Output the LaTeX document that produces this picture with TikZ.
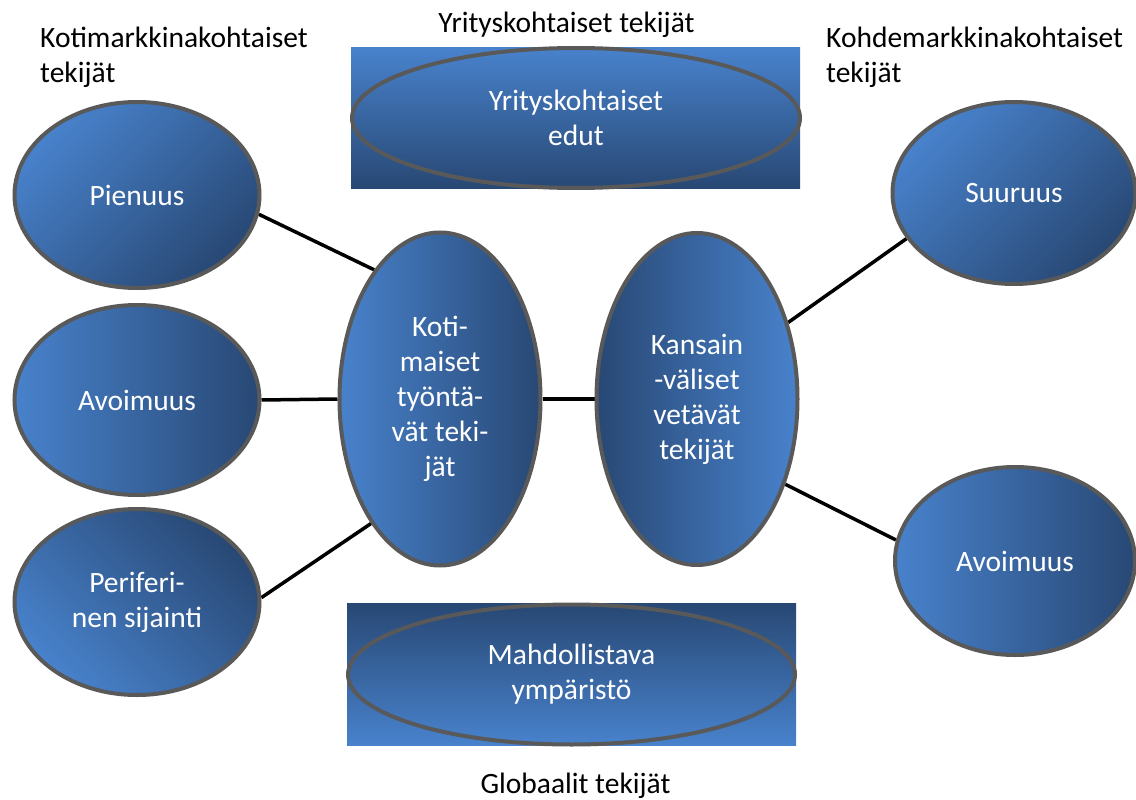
\documentclass[tikz,border=0pt]{standalone}
\usepackage{fontspec}
\setmainfont{Carlito}
\usetikzlibrary{shapes.geometric}
\definecolor{bl}{RGB}{72,130,204}
\definecolor{bd}{RGB}{40,72,116}
\definecolor{ol}{RGB}{89,89,89}
\pgfdeclarelayer{bg}
\pgfsetlayers{bg,main}
\begin{document}
\begin{tikzpicture}[x=1pt,y=-1pt,
  txt/.style={font=\fontsize{29.5}{35}\selectfont, align=center, inner sep=0pt},
  oval/.style={ellipse, draw=ol, line width=4pt, inner sep=0pt, txt, text=white},
  hgrad/.style={left color=bl, right color=bd},
  hgradr/.style={left color=bd, right color=bl},
  conn/.style={line width=3.5pt, black}]
\useasboundingbox (0,0) rectangle (1136,800);

% frames
\node[rectangle, inner sep=0pt, minimum width=449, minimum height=140, top color=bl, bottom color=bd] (topbox) at (575.5,118) {};
\node[oval, minimum width=448, minimum height=140, top color=bl, bottom color=bd] (yrit) at (576,118) {Yrityskohtaiset\\edut};
\node[rectangle, inner sep=0pt, minimum width=449, minimum height=142, top color=bd, bottom color=bl] (botbox) at (571.5,674) {};
\node[oval, minimum width=447, minimum height=140, top color=bd, bottom color=bl] (mahd) at (571.5,674.5) {Mahdollistava\\ympäristö};

% left ellipses
\node[oval, minimum width=245, minimum height=186, hgrad, shading angle=45] (pien) at (137,195) {Pienuus};
\node[oval, minimum width=245, minimum height=190, hgrad] (avl) at (137,400) {Avoimuus};
\node[oval, minimum width=245, minimum height=186, hgrad, shading angle=135] (per) at (137,602) {Periferi-\\nen sijainti};

% central ellipses
\node[oval, minimum width=201, minimum height=333, hgrad] (koti) at (440,399) {Koti-\\maiset\\työntä-\\vät teki-\\jät};
\node[oval, minimum width=201, minimum height=332, hgradr] (kan) at (697,399) {Kansain\\-väliset\\vetävät\\tekijät};

% right ellipses
\node[oval, minimum width=243, minimum height=182, hgrad, shading angle=45] (suu) at (1014,193) {Suuruus};
\node[oval, minimum width=240, minimum height=188, hgrad] (avr) at (1015,561) {Avoimuus};

% connectors
\begin{pgfonlayer}{bg}
\draw[conn] (pien.-9) -- (koti.117);
\draw[conn] (avl.east) -- (koti.west);
\draw[conn] (per.2) -- (koti.-119);
\draw[conn] (koti.east) -- (kan.west);
\draw[conn] (kan.40) -- (suu.-157);
\draw[conn] (kan.-44) -- (avr.170);
\end{pgfonlayer}

% labels
\node[txt, anchor=north west, align=left] (lkoti) at (40,27) {Kotimarkkinakohtaiset\\tekijät};
\node[txt, anchor=north west, align=left] (lkohde) at (826,27) {Kohdemarkkinakohtaiset\\tekijät};
\node[txt, anchor=base] (lyrit) at (566.5,33) {Yrityskohtaiset tekijät};
\node[txt, anchor=base] (lglob) at (575.5,793) {Globaalit tekijät};
\end{tikzpicture}
\end{document}
